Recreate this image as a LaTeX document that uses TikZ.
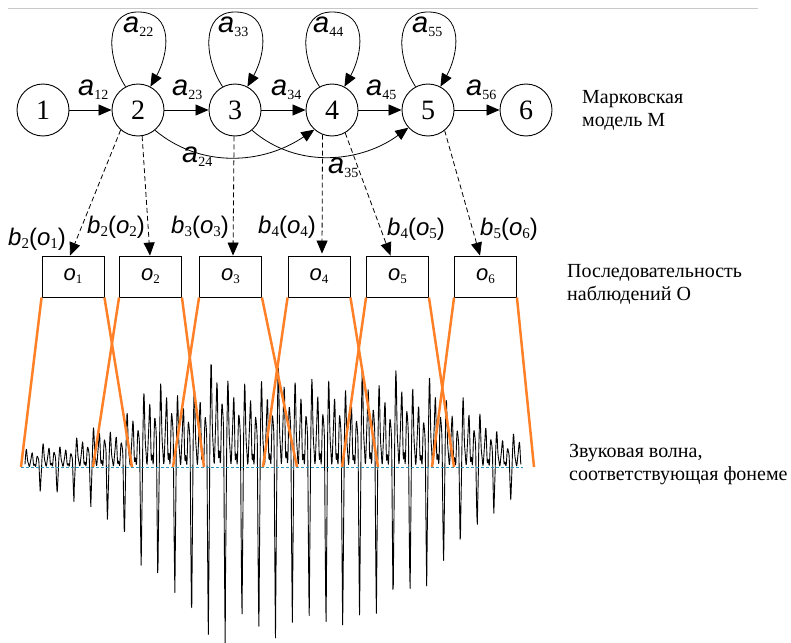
\documentclass[tikz,border=0pt]{standalone}
\usepackage{fontspec}
\setmainfont{Liberation Serif}
\setsansfont{Liberation Sans}
\newfontfamily\capfont{Liberation Serif}
\usetikzlibrary{arrows.meta}

\definecolor{cutline}{RGB}{255,128,38}
\definecolor{axisblue}{RGB}{40,150,190}
\definecolor{rulegray}{RGB}{200,200,200}

% transition label a_{ij}
\newcommand\tlab[1]{{\fontsize{29}{29}\selectfont\sffamily\itshape a}\raisebox{-4pt}{\capfont\fontsize{14}{14}\selectfont #1}}
% emission label b_j(o_t)
\newcommand\elab[2]{{\sffamily\itshape b}\raisebox{-3pt}{\capfont\fontsize{15}{15}\selectfont #1}{\sffamily(\itshape o}\raisebox{-3pt}{\capfont\fontsize{15}{15}\selectfont #2}{\sffamily)}}
% observation symbol o_t
\newcommand\olab[1]{{\sffamily\itshape o}\raisebox{-3pt}{\capfont\fontsize{13}{13}\selectfont #1}}

\begin{document}
\begin{tikzpicture}[x=1pt,y=-1pt,
  state/.style={circle, draw, line width=0.9pt, minimum size=52pt, inner sep=0pt,
                font=\capfont\fontsize{28}{28}\selectfont},
  obs/.style={draw, line width=0.9pt, minimum width=62pt, minimum height=41pt, inner sep=0pt,
              font=\fontsize{22}{22}\selectfont},
  arr/.style={line width=0.8pt, -{Triangle[length=13pt,width=11pt]}},
  emit/.style={arr, dash pattern=on 5pt off 3pt},
  lab/.style={anchor=base west, inner sep=0pt},
  blab/.style={lab, font=\fontsize{24}{24}\selectfont},
  note/.style={anchor=base west, inner sep=0pt, align=left, font=\capfont\fontsize{20}{23}\selectfont},
  frame/.style={cutline, line width=2.5pt},
  zero/.style={axisblue, line width=0.9pt, dash pattern=on 3pt off 2pt},
  wave/.style={line width=0.9pt, line join=round},
  declare function={
    ph(\x)=frac((\x+127.6)/16.8);
    kk(\x)=floor((\x+127.6)/16.8);
    rr(\x)=frac(abs(sin(\x*78.233))*437.5453);
    qd(\x)=(\x*\x)*(\x*\x);
    edn(\x)=26+155*exp(-qd((\x-295)/170));
    eup(\x)=22+82*exp(-qd((\x-300)/180));
    tr(\x)=max(0,1-\x/0.09)+max(0,1-(1-\x)/0.09);
    hump(\x)=(1-cos(1080*\x))/2;
    cr(\x)=(1-0.45*\x)*(0.12+0.88*hump(\x)*hump(\x))+0.07*sin(2880*\x);
    wv(\x)=eup(\x)*(0.75+0.35*rr(kk(\x)+3))*cr(ph(\x))-edn(\x)*(0.85+0.22*rr(kk(\x)))*tr(ph(\x));
  }]
\useasboundingbox (0,0) rectangle (791,642);

% rule along the top
\draw[rulegray, line width=0.9pt] (8,8) -- (758,8);

% speech waveform
\begin{scope}
  \clip (0,0) rectangle (791,642);
  \draw[wave] plot[domain=25:521, samples=1500, variable=\x] (\x, {467-wv(\x)});
\end{scope}
\draw[zero] (21,467) -- (523,467);

% hidden states
\node[state] (s1) at (43,110) {1};
\node[state] (s2) at (138,110) {2};
\node[state] (s3) at (235,110) {3};
\node[state] (s4) at (332,110) {4};
\node[state] (s5) at (428,110) {5};
\node[state] (s6) at (526,110) {6};

% forward transitions
\draw[arr] (s1) -- (s2);
\draw[arr] (s2) -- (s3);
\draw[arr] (s3) -- (s4);
\draw[arr] (s4) -- (s5);
\draw[arr] (s5) -- (s6);
\node[lab] (a12) at (78,95) {\tlab{12}};
\node[lab] (a23) at (172,95) {\tlab{23}};
\node[lab] (a34) at (271,95) {\tlab{34}};
\node[lab] (a45) at (366,95) {\tlab{45}};
\node[lab] (a56) at (466,95) {\tlab{56}};

% self loops
\foreach \s in {s2,s3,s4,s5}{
  \draw[arr] (\s.118) .. controls +(-18,-27) and +(-35,0) .. ([yshift=98pt]\s.center)
             .. controls +(37,0) and +(18,-32) .. (\s.62);
}
\node[lab] (a22) at (123,33) {\tlab{22}};
\node[lab] (a33) at (218,33) {\tlab{33}};
\node[lab] (a44) at (313,33) {\tlab{44}};
\node[lab] (a55) at (412,33) {\tlab{55}};

% skip transitions
\draw[arr] (s2.-50) .. controls (200,168) and (262,165) .. (s4.228);
\draw[arr] (s3.-50) .. controls (298,170) and (362,162) .. (s5.222);
\node[lab] (a24) at (182,162) {\tlab{24}};
\node[lab] (a35) at (328,173) {\tlab{35}};

% observations
\node[obs] (o1) at (73,276.5) {\olab{1}};
\node[obs] (o2) at (150.5,276.5) {\olab{2}};
\node[obs] (o3) at (230.5,276.5) {\olab{3}};
\node[obs] (o4) at (319,276.5) {\olab{4}};
\node[obs] (o5) at (397.5,276.5) {\olab{5}};
\node[obs] (o6) at (485.5,276.5) {\olab{6}};

% emissions
\draw[emit] (s2.229) -- ([xshift=-3pt]o1.north);
\draw[emit] (s2.-81) -- ([xshift=-0.5pt]o2.north);
\draw[emit] (s3.-92) -- ([xshift=2.5pt]o3.north);
\draw[emit] (s4.-111) -- ([xshift=3pt,yshift=2pt]o4.north);
\draw[emit] (s4.-60) -- ([xshift=-7pt]o5.north);
\draw[emit] (s5.-51) -- ([xshift=-5.5pt]o6.north);
\node[blab] (b1) at (8,245) {\elab{2}{1}};
\node[blab] (b2) at (87,233) {\elab{2}{2}};
\node[blab] (b3) at (171,233) {\elab{3}{3}};
\node[blab] (b4) at (258,233) {\elab{4}{4}};
\node[blab] (b5) at (387,235) {\elab{4}{5}};
\node[blab] (b6) at (480,235) {\elab{5}{6}};

% analysis frames on the waveform
\coordinate (g1) at (21,467);   \coordinate (g2) at (132,467);
\coordinate (g3) at (93,467);   \coordinate (g4) at (204,467);
\coordinate (g5) at (173,467);  \coordinate (g6) at (297,467);
\coordinate (g7) at (263,467);  \coordinate (g8) at (378,467);
\coordinate (g9) at (342,467);  \coordinate (g10) at (454,467);
\coordinate (g11) at (432,467); \coordinate (g12) at (534,467);
\draw[frame] (o1.south west) -- (g1);  \draw[frame] (o1.south east) -- (g2);
\draw[frame] (o2.south west) -- (g3);  \draw[frame] (o2.south east) -- (g4);
\draw[frame] (o3.south west) -- (g5);  \draw[frame] (o3.south east) -- (g6);
\draw[frame] (o4.south west) -- (g7);  \draw[frame] (o4.south east) -- (g8);
\draw[frame] (o5.south west) -- (g9);  \draw[frame] (o5.south east) -- (g10);
\draw[frame] (o6.south west) -- (g11); \draw[frame] (o6.south east) -- (g12);

% captions (anchored at the baseline of the last line)
\node[note] (tM) at (582,126) {Марковская\\модель М};
\node[note] (tO) at (567,300) {Последовательность\\наблюдений О};
\node[note] (tW) at (569,480) {Звуковая волна,\\соответствующая фонеме};
\end{tikzpicture}
\end{document}
